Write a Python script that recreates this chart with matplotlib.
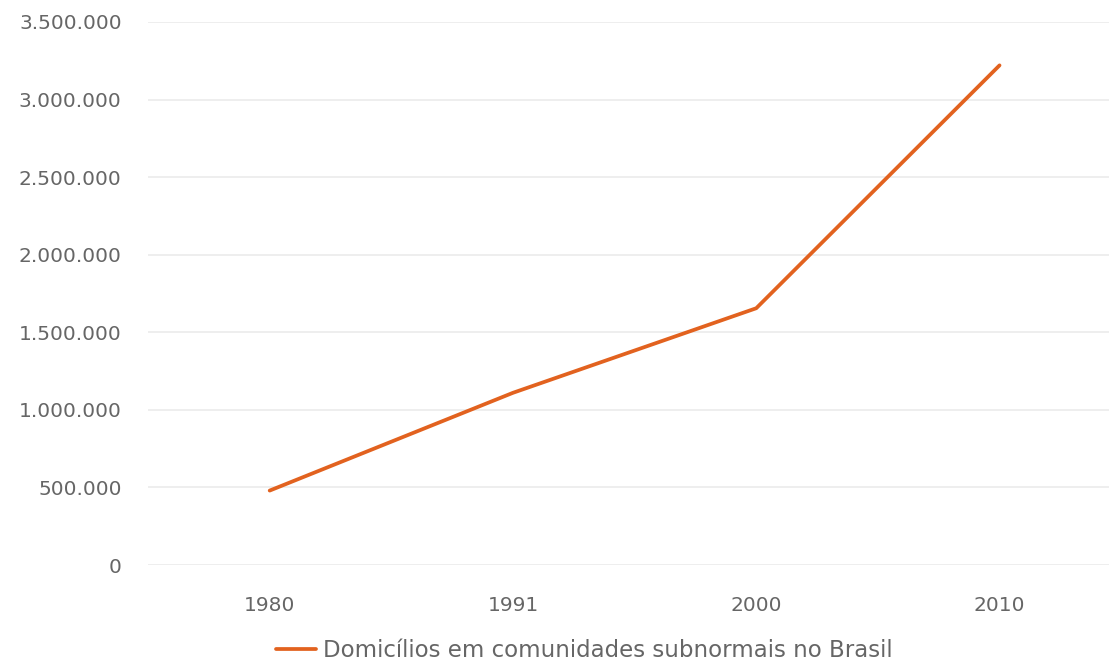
import numpy as np
import matplotlib.pyplot as plt
from matplotlib.ticker import FuncFormatter

# dados
anos = ['1980', '1991', '2000', '2010']
domicilios = [480000, 1110000, 1655000, 3220000]
serie = 'Domicílios em comunidades subnormais no Brasil'

cor_linha = '#E2621F'
cor_texto = '#666666'
cor_grade = '#EBEBEB'

fig = plt.figure(figsize=(11.09, 6.64), dpi=100)
ax = fig.add_axes([0.1335, 0.149, 0.8665, 0.818])

x = np.arange(len(anos))
ax.plot(x, domicilios, color=cor_linha, linewidth=2.7, solid_capstyle='round', label=serie)

ax.set_xlim(-0.5, 3.45)
ax.set_ylim(0, 3500000)
ax.set_yticks(np.arange(0, 3500001, 500000))
ax.yaxis.set_major_formatter(FuncFormatter(lambda v, p: f'{int(v):,}'.replace(',', '.')))
ax.set_xticks(x)
ax.set_xticklabels(anos)

ax.grid(axis='y', color=cor_grade, linewidth=1.2)
ax.set_axisbelow(True)
for s in ax.spines.values():
    s.set_visible(False)
ax.tick_params(axis='both', length=0, labelsize=14.5, labelcolor=cor_texto)
ax.tick_params(axis='y', pad=19)
ax.tick_params(axis='x', pad=22)

fig.legend(loc='center', bbox_to_anchor=(0.527, 0.021), frameon=False,
           fontsize=16.5, labelcolor=cor_texto, handlelength=1.75, handletextpad=0.3)

fig.savefig('out.png', dpi=100)
